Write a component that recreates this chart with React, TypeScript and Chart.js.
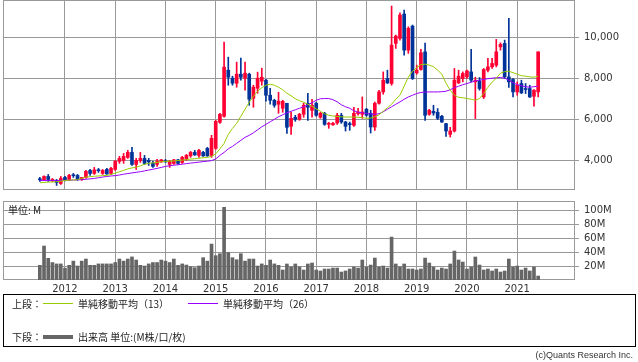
import React, { useEffect, useRef } from 'react';
import { Chart, registerables } from 'chart.js';

Chart.register(...registerables);

// ---- data (monthly, Jul 2011 - Jun 2021) ----
const yearLabels = ['2012', '2013', '2014', '2015', '2016', '2017', '2018', '2019', '2020', '2021'];
const yearMonthIndex = [6, 18, 30, 42, 54, 66, 78, 90, 102, 114];
const priceTicks = [4000, 6000, 8000, 10000];
const volumeTicks = [20, 40, 60, 80, 100];

const opens = [
  3088, 3049, 3220, 3000, 3025, 2878, 3171, 3073, 3283, 3268,
  3073, 3171, 3512, 3366, 3527, 3366, 3561, 3366, 3561, 3951,
  4000, 4147, 4390, 3805, 4000, 4098, 4000, 3868, 3805, 3927,
  3976, 3805, 3854, 4025, 3903, 4049, 4220, 4390, 4244, 4390,
  4586, 4244, 4586, 5854, 6147, 8390, 8000, 7756, 8195, 8000,
  8195, 7024, 7513, 7854, 7903, 7171, 6927, 6732, 6537, 6781,
  5659, 6098, 6000, 6244, 6781, 6439, 6781, 6098, 6293, 5756,
  5732, 5820, 6195, 5868, 5771, 5708, 6278, 6244, 6488, 6293,
  5625, 6781, 7332, 7985, 7742, 9693, 9937, 11122, 9366, 10537,
  8259, 8425, 9283, 6244, 6390, 6342, 6147, 5790, 5268, 5430,
  7771, 7985, 8064, 8307, 7820, 7869, 7088, 8390, 8552, 8634,
  9527, 9693, 8064, 7937, 7332, 7742, 7498, 7498, 7122, 7332,
];
const highs = [
  3171, 3244, 3317, 3122, 3073, 3220, 3220, 3317, 3366, 3317,
  3171, 3512, 3561, 3659, 3610, 3561, 3610, 3659, 4000, 4195,
  4342, 4488, 4634, 4098, 4390, 4244, 4098, 3951, 4049, 4049,
  4049, 4000, 4049, 4049, 4195, 4293, 4439, 4488, 4537, 4439,
  4634, 5220, 5951, 6293, 9756, 9025, 8098, 8781, 8976, 8781,
  8244, 7659, 8293, 8488, 7951, 7513, 6976, 7317, 6927, 6781,
  6342, 6195, 6293, 6781, 7268, 6976, 6829, 6342, 6342, 5854,
  5854, 6293, 6293, 5902, 5868, 6586, 6537, 7088, 6537, 6439,
  6844, 7415, 8307, 8390, 11512, 10098, 11186, 11317, 10503, 10586,
  8634, 9400, 9707, 6488, 6683, 6522, 6195, 5805, 5610, 8473,
  8390, 8307, 8390, 9400, 8049, 8034, 8473, 8961, 8961, 9888,
  9722, 9854, 10912, 7985, 7820, 7903, 7742, 7659, 7449, 9283,
];
const lows = [
  2976, 3025, 2976, 2976, 2781, 2830, 3000, 3025, 3171, 3025,
  3025, 3122, 3268, 3317, 3415, 3317, 3317, 3317, 3512, 3854,
  3854, 4098, 3756, 3561, 3903, 3805, 3756, 3659, 3708, 3903,
  3903, 3659, 3805, 3805, 3854, 4000, 4147, 4244, 4147, 4195,
  4195, 4147, 4537, 5805, 6098, 7659, 7659, 7561, 7903, 7415,
  6683, 6586, 7268, 7659, 6878, 6732, 6586, 6293, 6342, 5317,
  5268, 5902, 5951, 6098, 5951, 6098, 6147, 6049, 5708, 5561,
  5708, 5756, 5805, 5430, 5464, 5659, 6195, 6049, 6147, 5332,
  5464, 6732, 7220, 7742, 7659, 9449, 9854, 9122, 9205, 7937,
  8195, 8390, 5951, 6195, 6195, 5986, 5854, 5171, 5137, 5381,
  7742, 7820, 7985, 7820, 6034, 7415, 7010, 8307, 8473, 8552,
  9366, 7985, 7547, 7088, 7171, 7254, 7254, 7059, 6634, 7088,
];
const closes = [
  3059, 3220, 3073, 3073, 2927, 3122, 3049, 3268, 3254, 3073,
  3171, 3464, 3366, 3537, 3498, 3512, 3342, 3610, 3951, 4098,
  4195, 4390, 3805, 4000, 4098, 3854, 3927, 3708, 3951, 4025,
  3927, 3951, 4025, 3854, 4147, 4244, 4390, 4268, 4488, 4220,
  4220, 5073, 5902, 6244, 8537, 8049, 7756, 8195, 8049, 8244,
  6976, 7561, 8000, 8049, 7171, 6927, 6683, 6878, 6878, 5610,
  6049, 6000, 6244, 6683, 6586, 6683, 6195, 6293, 5756, 5805,
  5805, 6195, 5868, 5659, 5742, 6293, 6356, 6356, 6195, 5625,
  6781, 7332, 7903, 7771, 9610, 10049, 11073, 9366, 10425, 7985,
  8390, 9234, 6195, 6439, 6307, 6049, 5868, 5430, 5430, 7903,
  8098, 8229, 8356, 7903, 7903, 7498, 8425, 8552, 8717, 9283,
  9644, 8064, 7820, 7332, 7659, 7283, 7449, 7088, 7415, 9283,
];
const sma13 = [
  2912, 2927, 2942, 2951, 2961, 2991, 3025, 3039, 3049, 3059,
  3122, 3186, 3210, 3229, 3244, 3259, 3268, 3317, 3381, 3449,
  3512, 3586, 3635, 3674, 3732, 3815, 3854, 3878, 3903, 3937,
  3951, 3966, 3976, 3990, 4015, 4039, 4064, 4083, 4108, 4132,
  4147, 4195, 4317, 4561, 4830, 5268, 5561, 5805, 6147, 6488,
  6829, 7122, 7366, 7537, 7659, 7708, 7659, 7561, 7439, 7268,
  7146, 7000, 6903, 6829, 6732, 6634, 6512, 6390, 6268, 6195,
  6161, 6137, 6122, 6112, 6112, 6107, 6098, 6083, 6049, 6059,
  6122, 6220, 6390, 6561, 6732, 6976, 7171, 7610, 8049, 8342,
  8512, 8659, 8683, 8634, 8561, 8390, 8195, 7756, 7415, 7171,
  7073, 7049, 7010, 6976, 6927, 7010, 7254, 7561, 7805, 8000,
  8244, 8317, 8342, 8268, 8195, 8122, 8098, 8064, 8049, 8098,
];
const sma26 = [
  3025, 3025, 3025, 3025, 3025, 3025, 3025, 3034, 3044, 3054,
  3064, 3083, 3103, 3122, 3156, 3190, 3220, 3244, 3259, 3288,
  3330, 3360, 3390, 3420, 3450, 3490, 3530, 3570, 3610, 3659,
  3708, 3742, 3766, 3790, 3815, 3844, 3868, 3893, 3917, 3942,
  3961, 3990, 4073, 4244, 4390, 4561, 4683, 4830, 4976, 5122,
  5220, 5342, 5488, 5634, 5756, 5878, 6000, 6122, 6220, 6317,
  6390, 6464, 6537, 6610, 6708, 6805, 6927, 7000, 7010, 7010,
  6951, 6854, 6708, 6610, 6537, 6415, 6342, 6317, 6278, 6264,
  6244, 6268, 6366, 6488, 6610, 6732, 6844, 6976, 7088, 7171,
  7254, 7303, 7332, 7332, 7332, 7332, 7342, 7366, 7439, 7537,
  7610, 7683, 7742, 7805, 7869, 7903, 7942, 7976, 8000, 8025,
  8034, 8000, 7903, 7781, 7683, 7634, 7586, 7561, 7586, 7610,
];
// volume in millions
const volumes = [
  21, 48.6, 31, 25, 23, 23, 17, 21, 27, 20,
  27, 30, 21, 21, 23, 23, 23, 23, 25, 30,
  27, 30, 33, 28.6, 21, 20, 23, 25, 25, 28.6,
  27, 25, 30, 21, 23, 21.4, 19, 17.6, 20, 31.9,
  27, 51.4, 34.8, 37.6, 104, 39.5, 31.9, 29, 37.6, 27,
  30, 30, 20, 23, 21, 28.6, 23, 21, 14.3, 22.9,
  18.6, 22.9, 18.6, 14.3, 22.9, 24.3, 14.3, 12.9, 15.7, 15.7,
  17.1, 17.1, 11.4, 12.9, 15.7, 18.6, 17.1, 28.6, 18.6, 21.4,
  31.4, 18.6, 20, 17.1, 61.4, 22.9, 18.6, 22.9, 15.7, 15.7,
  14.3, 15.7, 31.4, 24.3, 18.6, 14.3, 17.1, 15.7, 22.9, 41.4,
  28.6, 25.7, 15.7, 18.6, 32.9, 21.4, 14.3, 15.7, 12.9, 15.7,
  11.4, 12.9, 30, 18.6, 20, 14.3, 17.1, 12.9, 18.6, 5.7,
];

const W = 638;
const H = 362;
const X_MIN = -8.8;
const X_MAX = 127.8;
const UP = '#ff0033';
const DOWN = '#003399';
const GRID = '#999999';
const NUM_FONT = { family: 'DejaVu Sans', size: 10 };
const JP = '"Noto Sans CJK JP", sans-serif';

const framePlugin = {
  id: 'frame',
  beforeDatasetsDraw(chart: any) {
    const { ctx, chartArea: a } = chart;
    ctx.save();
    ctx.strokeStyle = GRID;
    ctx.lineWidth = 1;
    const l = Math.round(a.left) + 0.5;
    const t = Math.round(a.top) + 0.5;
    const r = Math.round(a.right) - 0.5;
    const b = Math.round(a.bottom) - 0.5;
    ctx.strokeRect(l, t, r - l, b - t);
    ctx.restore();
  },
};

const xScale = (showLabels: boolean, h: number) => ({
  type: 'linear',
  min: X_MIN,
  max: X_MAX,
  offset: false,
  afterBuildTicks: (s: any) => {
    s.ticks = yearMonthIndex.map((v) => ({ value: v }));
  },
  ticks: {
    display: showLabels,
    autoSkip: false,
    maxRotation: 0,
    padding: 3,
    font: NUM_FONT,
    color: '#333',
    callback: (v: any) => yearLabels[yearMonthIndex.indexOf(Number(v))],
  },
  grid: { color: GRID, drawTicks: false, offset: false },
  border: { display: false },
  afterFit: (s: any) => {
    s.height = h;
    s.paddingLeft = 0;
    s.paddingRight = 0;
  },
});

export default function App() {
  const priceRef = useRef<HTMLCanvasElement>(null);
  const volRef = useRef<HTMLCanvasElement>(null);

  useEffect(() => {
    const colors = opens.map((o, i) => (closes[i] >= o ? UP : DOWN));
    const price = new Chart(priceRef.current as HTMLCanvasElement, {
      type: 'bar',
      data: {
        datasets: [
          {
            type: 'line',
            data: sma13.map((v, i) => ({ x: i, y: v })),
            borderColor: '#99cc00',
            borderWidth: 1,
            pointRadius: 0,
            tension: 0,
          } as any,
          {
            type: 'line',
            data: sma26.map((v, i) => ({ x: i, y: v })),
            borderColor: '#9900ff',
            borderWidth: 1,
            pointRadius: 0,
            tension: 0,
          } as any,
          {
            type: 'bar',
            data: opens.map((o, i) => ({ x: i, y: [o, closes[i]] })),
            backgroundColor: colors,
            barThickness: 3,
            grouped: false,
            minBarLength: 1,
          } as any,
          {
            type: 'bar',
            data: lows.map((l, i) => ({ x: i, y: [l, highs[i]] })),
            backgroundColor: colors,
            barThickness: 1,
            grouped: false,
          } as any,
        ],
      },
      options: {
        animation: false,
        responsive: false,
        maintainAspectRatio: false,
        events: [],
        layout: { padding: { left: 3, top: 0, right: 0, bottom: H - 190 } },
        plugins: { legend: { display: false }, tooltip: { enabled: false } },
        scales: {
          x: xScale(false, 0) as any,
          y: {
            position: 'right',
            min: 2560,
            max: 11805,
            afterBuildTicks: (s: any) => {
              s.ticks = priceTicks.map((v) => ({ value: v }));
            },
            ticks: {
              font: NUM_FONT,
              color: '#333',
              padding: 5,
              callback: (v: any) => Number(v).toLocaleString('en-US'),
            },
            grid: { color: GRID, tickLength: 4 },
            border: { display: false },
            afterFit: (s: any) => {
              s.width = 63;
              s.paddingTop = 0;
              s.paddingBottom = 0;
            },
          } as any,
        },
      },
      plugins: [framePlugin],
    });

    const vol = new Chart(volRef.current as HTMLCanvasElement, {
      type: 'bar',
      data: {
        datasets: [
          {
            data: volumes.map((v, i) => ({ x: i, y: v })),
            backgroundColor: '#666666',
            barThickness: 3,
            grouped: false,
          } as any,
        ],
      },
      options: {
        animation: false,
        responsive: false,
        maintainAspectRatio: false,
        events: [],
        layout: { padding: { left: 3, top: 201, right: 0, bottom: H - 280 - 14 } },
        plugins: { legend: { display: false }, tooltip: { enabled: false } },
        scales: {
          x: xScale(true, 14) as any,
          y: {
            position: 'right',
            min: 0,
            max: 113,
            afterBuildTicks: (s: any) => {
              s.ticks = volumeTicks.map((v) => ({ value: v }));
            },
            ticks: {
              font: NUM_FONT,
              color: '#333',
              padding: 5,
              callback: (v: any) => `${v}M`,
            },
            grid: { color: GRID, tickLength: 4 },
            border: { display: false },
            afterFit: (s: any) => {
              s.width = 63;
              s.paddingTop = 0;
              s.paddingBottom = 0;
            },
          } as any,
        },
      },
      plugins: [framePlugin],
    });

    return () => {
      price.destroy();
      vol.destroy();
    };
  }, []);

  const txt = (left: number, cy: number, s: string, size = 10): React.ReactNode => (
    <span
      style={{
        position: 'absolute',
        left,
        top: cy - 7,
        lineHeight: '14px',
        fontSize: size,
        fontFamily: JP,
        color: '#222',
        whiteSpace: 'nowrap',
      }}
    >
      {s}
    </span>
  );

  return (
    <div style={{ position: 'absolute', left: 0, top: 0, width: W, height: H, background: '#fff', overflow: 'hidden' }}>
      <canvas ref={volRef} width={W} height={H} style={{ position: 'absolute', left: 0, top: 0 }} />
      <canvas ref={priceRef} width={W} height={H} style={{ position: 'absolute', left: 0, top: 0 }} />
      {txt(8, 210, '単位: M', 10)}
      <div
        style={{
          position: 'absolute',
          left: 3,
          top: 294,
          width: 633,
          height: 53,
          border: '1px solid #000',
          boxSizing: 'border-box',
        }}
      />
      {txt(12, 303.5, '上段：')}
      <div style={{ position: 'absolute', left: 43, top: 303, width: 30, height: 1, background: '#99cc00' }} />
      {txt(78, 303.5, '単純移動平均（13）')}
      <div style={{ position: 'absolute', left: 188, top: 303, width: 30, height: 1, background: '#9900ff' }} />
      {txt(223, 303.5, '単純移動平均（26）')}
      {txt(12, 337, '下段：')}
      <div style={{ position: 'absolute', left: 43, top: 335, width: 30, height: 4, background: '#666666' }} />
      {txt(78, 337, '出来高 単位:(M株/口/枚)')}
      <span
        style={{
          position: 'absolute',
          right: 5,
          top: 349,
          lineHeight: '12px',
          fontSize: 9,
          fontFamily: '"Liberation Sans", sans-serif',
          color: '#333',
          whiteSpace: 'nowrap',
        }}
      >
        (c)Quants Research Inc.
      </span>
    </div>
  );
}
